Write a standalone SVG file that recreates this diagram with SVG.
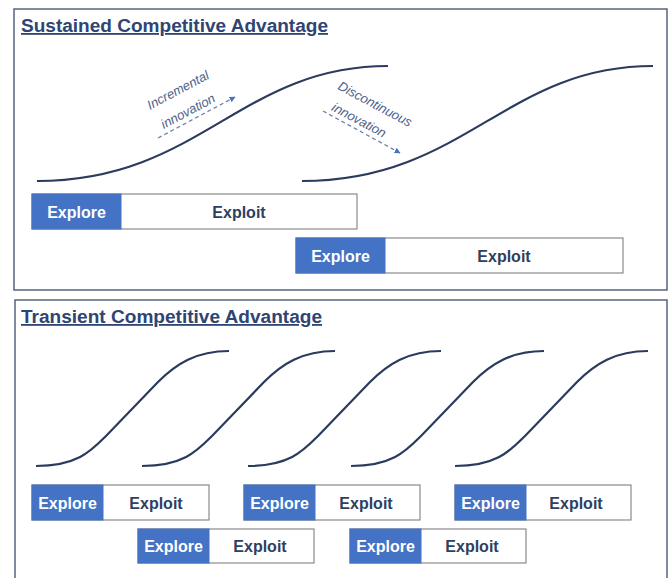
<svg xmlns="http://www.w3.org/2000/svg" width="670" height="578" viewBox="0 0 670 578">
<defs>
<marker id="ah" viewBox="0 0 10 10" refX="9" refY="5" markerWidth="6" markerHeight="6" orient="auto" markerUnits="userSpaceOnUse">
<path d="M0,0 L10,5 L0,10 z" fill="#4472C4"/>
</marker>
<path id="s" d="M0,115 C42,115 56,99 70,85 L122,31 C140,13 160,0 193,0"/>
<style>
.panel{fill:#fff;stroke:#55647c;stroke-width:1.5}
.title{font-family:"Liberation Sans",Arial,sans-serif;font-weight:bold;font-size:18px;fill:#2f4472;text-decoration:underline}
.curve{fill:none;stroke:#2b3b5e;stroke-width:2.2}
.exp{fill:#4472C4;stroke:#4472C4;stroke-width:1}
.expl{fill:#fff;stroke:#8a8a8a;stroke-width:1.2}
.t1{font-family:"Liberation Sans",Arial,sans-serif;font-weight:bold;font-size:16px;fill:#fff;text-anchor:middle}
.t2{font-family:"Liberation Sans",Arial,sans-serif;font-weight:bold;font-size:16px;fill:#2f3f5f;text-anchor:middle}
.lab{font-family:"Liberation Sans",Arial,sans-serif;font-style:italic;font-size:13px;fill:#4f648c;text-anchor:middle}
.dash{fill:none;stroke:#6f82a8;stroke-width:1.3;stroke-dasharray:4,3}
</style>
</defs>
<rect width="670" height="578" fill="#fff"/>

<g id="panel-sustained">
<rect class="panel" x="14" y="9" width="653" height="281"/>
<text class="title" x="21" y="32" textLength="307" lengthAdjust="spacingAndGlyphs">Sustained Competitive Advantage</text>
</g>
<g id="panel-transient">
<rect class="panel" x="15" y="300" width="652" height="290"/>
<text class="title" x="21" y="323" textLength="301" lengthAdjust="spacingAndGlyphs">Transient Competitive Advantage</text>
</g>

<g id="curves-top">
<path class="curve" d="M37,181 C200,181 240,66 388,66"/>
<path class="curve" d="M302,181 C465,181 505,66 653,66"/>
</g>

<g id="labels-top">
<text class="lab" transform="translate(180,94) rotate(-28)">Incremental</text>
<text class="lab" transform="translate(190,115) rotate(-28)">innovation</text>
<text class="lab" transform="translate(373,108) rotate(28)">Discontinuous</text>
<text class="lab" transform="translate(357,124) rotate(28)">innovation</text>
</g>

<g id="connectors">
<line class="dash" x1="158" y1="138" x2="235" y2="97" marker-end="url(#ah)"/>
<line class="dash" x1="323" y1="111" x2="400" y2="153" marker-end="url(#ah)"/>
</g>

<g id="box-top-1">
<rect class="expl" x="32" y="194" width="325" height="35"/>
<rect class="exp" x="32" y="194" width="89" height="35"/>
<text class="t1" x="76.5" y="217.5">Explore</text>
<text class="t2" x="239" y="217.5">Exploit</text>
</g>
<g id="box-top-2">
<rect class="expl" x="296" y="238" width="327" height="35"/>
<rect class="exp" x="296" y="238" width="89" height="35"/>
<text class="t1" x="340.5" y="261.5">Explore</text>
<text class="t2" x="504" y="261.5">Exploit</text>
</g>

<g id="curves-bottom">
<use href="#s" class="curve" transform="translate(36,351)"/>
<use href="#s" class="curve" transform="translate(142,351)"/>
<use href="#s" class="curve" transform="translate(248,351)"/>
<use href="#s" class="curve" transform="translate(351,351)"/>
<use href="#s" class="curve" transform="translate(455,351)"/>
</g>

<g id="box-b1">
<rect class="expl" x="32" y="485" width="177" height="35"/>
<rect class="exp" x="32" y="485" width="71" height="35"/>
<text class="t1" x="67.5" y="508.5">Explore</text>
<text class="t2" x="156" y="508.5">Exploit</text>
</g>
<g id="box-b2">
<rect class="expl" x="244" y="485" width="176" height="35"/>
<rect class="exp" x="244" y="485" width="71" height="35"/>
<text class="t1" x="279.5" y="508.5">Explore</text>
<text class="t2" x="366" y="508.5">Exploit</text>
</g>
<g id="box-b3">
<rect class="expl" x="455" y="485" width="176" height="35"/>
<rect class="exp" x="455" y="485" width="71" height="35"/>
<text class="t1" x="490.5" y="508.5">Explore</text>
<text class="t2" x="576" y="508.5">Exploit</text>
</g>
<g id="box-b4">
<rect class="expl" x="138" y="529" width="176" height="34"/>
<rect class="exp" x="138" y="529" width="71" height="34"/>
<text class="t1" x="173.5" y="551.5">Explore</text>
<text class="t2" x="260" y="551.5">Exploit</text>
</g>
<g id="box-b5">
<rect class="expl" x="350" y="529" width="176" height="34"/>
<rect class="exp" x="350" y="529" width="71" height="34"/>
<text class="t1" x="385.5" y="551.5">Explore</text>
<text class="t2" x="472" y="551.5">Exploit</text>
</g>
</svg>
